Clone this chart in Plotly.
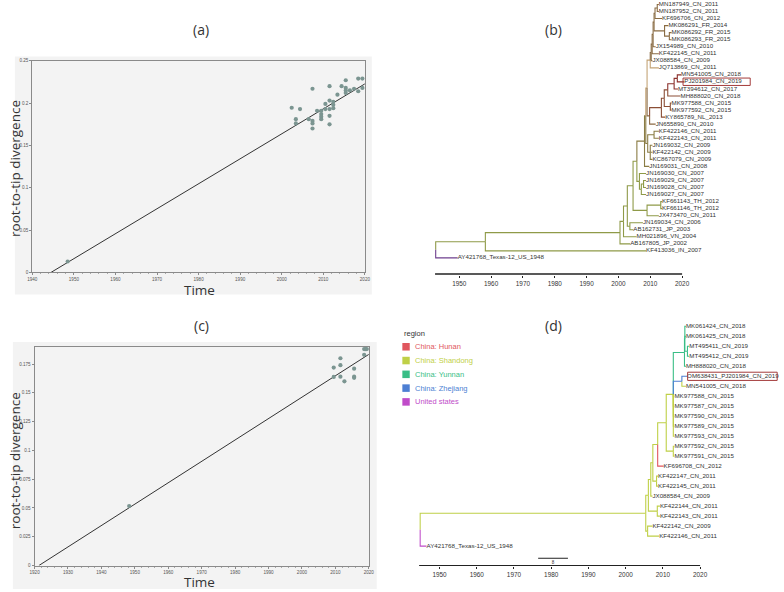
import plotly.graph_objects as go

W, H = 784, 592

# ---------------- (a) root-to-tip regression, full data set ----------------
A_YEARS = [1948.5, 2002.4, 2003.4, 2003.4, 2004.4, 2006.5, 2007.4, 2007.4, 2007.4, 2007.4,
           2008.5, 2009.5, 2009.5, 2009.5, 2009.5, 2010.5, 2010.5, 2011.5, 2011.5, 2011.5,
           2011.5, 2011.5, 2012.4, 2012.4, 2012.4, 2013.4, 2014.4, 2015.4, 2015.4, 2015.4,
           2015.4, 2016.4, 2017.4, 2018.4, 2018.4, 2019.4, 2019.4]
A_DIV = [0.0129, 0.1945, 0.181, 0.176, 0.193, 0.181, 0.217, 0.179, 0.176, 0.170,
         0.191, 0.191, 0.187, 0.184, 0.181, 0.199, 0.193, 0.220, 0.203, 0.193,
         0.185, 0.175, 0.2016, 0.198, 0.194, 0.210, 0.220, 0.227, 0.218, 0.215,
         0.212, 0.215, 0.217, 0.229, 0.214, 0.229, 0.218]
A_ROOT_DATE = 1944.5
A_RATE = 0.00295
A_XTICKS = [1940, 1950, 1960, 1970, 1980, 1990, 2000, 2010, 2020]
A_YTICKS = [0, 0.05, 0.1, 0.15, 0.2, 0.25]
A_YTICK_TEXT = ["0", "0.05", "0.1", "0.15", "0.2", "0.25"]

# ---------------- (c) root-to-tip regression, subset ----------------
C_YEARS = [1948.3, 2009.5, 2009.5, 2011.5, 2011.5, 2011.5, 2012.7, 2015.6, 2015.6, 2015.6,
           2018.6, 2018.6, 2019.0, 2019.4]
C_DIV = [0.0517, 0.1719, 0.1638, 0.180, 0.174, 0.164, 0.160, 0.171, 0.164, 0.163,
         0.183, 0.188, 0.188, 0.188]
C_ROOT_DATE = 1921.3
C_RATE = 0.001858
C_XTICKS = [1920, 1930, 1940, 1950, 1960, 1970, 1980, 1990, 2000, 2010, 2020]
C_YTICKS = [0, 0.025, 0.05, 0.075, 0.1, 0.125, 0.15, 0.175]
C_YTICK_TEXT = ["0", "0.025", "0.05", "0.075", "0.1", "0.125", "0.15", "0.175"]

# ---------------- (b) time tree, full data set ----------------
B_LEAVES = ["MN187949_CN_2011", "MN187952_CN_2011", "KF696706_CN_2012", "MK086291_FR_2014",
            "MK086292_FR_2015", "MK086293_FR_2015", "JX154989_CN_2010", "KF422145_CN_2011",
            "JX088584_CN_2009", "JQ713869_CN_2011", "MN541005_CN_2018", "PJ201984_CN_2019",
            "MT394612_CN_2017", "MH888020_CN_2018", "MK977588_CN_2015", "MK977592_CN_2015",
            "KY865789_NL_2013", "JN655890_CN_2010", "KF422146_CN_2011", "KF422143_CN_2011",
            "JN169032_CN_2009", "KF422142_CN_2009", "KC867079_CN_2009", "JN169031_CN_2008",
            "JN169030_CN_2007", "JN169029_CN_2007", "JN169028_CN_2007", "JN169027_CN_2007",
            "KF661143_TH_2012", "KF661146_TH_2012", "JX473470_CN_2011", "JN169034_CN_2006",
            "AB162731_JP_2003", "MH021896_VN_2004", "AB167805_JP_2002", "KF413036_IN_2007",
            "AY421768_Texas-12_US_1948"]
B_TIPS = [2012.7, 2012.7, 2013.7, 2015.7, 2016.7, 2016.7, 2011.7, 2012.7, 2010.7, 2012.7,
          2019.7, 2020.7, 2018.7, 2019.5, 2016.7, 2016.7, 2014.7, 2011.7, 2012.7, 2012.7,
          2010.7, 2010.7, 2010.7, 2009.7, 2008.7, 2008.7, 2008.7, 2008.7, 2013.7, 2013.7,
          2012.7, 2007.7, 2004.7, 2005.7, 2003.7, 2008.7, 1949.5]
B_NODE_IDS = ["R", "A", "B", "C", "D", "E", "E2", "G", "H", "F", "F2", "F3", "F4", "F1", "F1a",
              "M", "M1", "M2", "U", "U3", "U2", "U2a", "MKp", "U2b", "U2c", "U2d", "U1", "U1a",
              "U1b", "U1c", "U1d", "FR", "FR2", "U1e", "MNp"]
B_NODE_TIMES = [1942.6, 1958.2, 2000.5, 2001.6, 2002.8, 2003.6, 2004.6, 2009.0, 2013.3, 2005.8,
                2006.6, 2007.2, 2007.9, 2008.2, 2008.6, 2009.2, 2011.2, 2010.0, 2009.0, 2009.8,
                2013.5, 2014.4, 2016.3, 2015.5, 2017.5, 2018.5, 2010.0, 2010.3, 2010.6, 2010.9,
                2011.2, 2014.5, 2016.0, 2011.5, 2012.2]
B_NODE_CHILDREN = [
    ["A", "AY421768_Texas-12_US_1948"], ["B", "KF413036_IN_2007"], ["C", "AB167805_JP_2002"],
    ["D", "MH021896_VN_2004"], ["E2", "E"], ["JN169034_CN_2006", "AB162731_JP_2003"],
    ["F", "G"], ["H", "JX473470_CN_2011"], ["KF661143_TH_2012", "KF661146_TH_2012"],
    ["F1", "F2"], ["JN169030_CN_2007", "F3"], ["F4", "JN169027_CN_2007"],
    ["JN169029_CN_2007", "JN169028_CN_2007"], ["F1a", "JN169031_CN_2008"], ["U", "M"],
    ["M1", "M2"], ["KF422146_CN_2011", "KF422143_CN_2011"],
    ["JN169032_CN_2009", "KF422142_CN_2009", "KC867079_CN_2009"], ["U1", "U3"],
    ["U2", "JN655890_CN_2010"], ["U2a", "KY865789_NL_2013"], ["U2b", "MKp"],
    ["MK977588_CN_2015", "MK977592_CN_2015"], ["U2c", "MH888020_CN_2018"],
    ["U2d", "MT394612_CN_2017"], ["MN541005_CN_2018", "PJ201984_CN_2019"],
    ["U1a", "JQ713869_CN_2011"], ["U1b", "JX088584_CN_2009"], ["U1c", "KF422145_CN_2011"],
    ["U1d", "JX154989_CN_2010"], ["U1e", "FR"], ["MK086291_FR_2014", "FR2"],
    ["MK086292_FR_2015", "MK086293_FR_2015"], ["MNp", "KF696706_CN_2012"],
    ["MN187949_CN_2011", "MN187952_CN_2011"]]
B_CLADE_COLORS = {"A": "#8f9a48", "AY421768_Texas-12_US_1948": "#6e3f8e", "F1": "#8a7c44",
                  "U": "#c4a476", "U1a": "#8a6c44", "U3": "#8c6a44", "U2": "#8b4e36",
                  "U2c": "#8b2f2b"}
B_HIGHLIGHT = "PJ201984_CN_2019"
B_AXIS_TICKS = [1950, 1960, 1970, 1980, 1990, 2000, 2010, 2020]
B_AXIS_START = 1942.4

# ---------------- (d) time tree, subset ----------------
D_LEAVES = ["MK061424_CN_2018", "MK061425_CN_2018", "MT495411_CN_2019", "MT495412_CN_2019",
            "MH888020_CN_2018", "OM638431_PJ201984_CN_2019", "MN541005_CN_2018",
            "MK977588_CN_2015", "MK977587_CN_2015", "MK977590_CN_2015", "MK977589_CN_2015",
            "MK977593_CN_2015", "MK977592_CN_2015", "MK977591_CN_2015", "KF696708_CN_2012",
            "KF422147_CN_2011", "KF422145_CN_2011", "JX088584_CN_2009", "KF422144_CN_2011",
            "KF422143_CN_2011", "KF422142_CN_2009", "KF422146_CN_2011",
            "AY421768_Texas-12_US_1948"]
D_TIPS = [2016.2, 2016.2, 2017.1, 2017.1, 2016.2, 2016.5, 2016.2, 2013.1, 2013.1, 2013.1,
          2013.1, 2013.1, 2013.1, 2013.1, 2010.2, 2008.7, 2008.7, 2007.2, 2009.2, 2009.2,
          2007.2, 2009.0, 1946.5]
D_NODE_IDS = ["R", "N1", "N3", "N2", "N5", "N4", "N6", "N8", "N7", "N9", "N10", "N11",
              "G", "G3", "G2", "B"]
D_NODE_TIMES = [1944.8, 2005.4, 2005.9, 2006.1, 2008.5, 2006.75, 2007.3, 2008.3, 2008.6,
                2010.9, 2012.8, 2012.8, 2015.8, 2015.9, 2016.6, 2015.1]
D_NODE_CHILDREN = [
    ["N1", "AY421768_Texas-12_US_1948"], ["N2", "N3"], ["KF422142_CN_2009", "KF422146_CN_2011"],
    ["N4", "N5"], ["KF422144_CN_2011", "KF422143_CN_2011"], ["N6", "JX088584_CN_2009"],
    ["N7", "N8"], ["KF422147_CN_2011", "KF422145_CN_2011"], ["N9", "KF696708_CN_2012"],
    ["N10", "N11"],
    ["G", "B", "MK977588_CN_2015", "MK977587_CN_2015", "MK977590_CN_2015", "MK977589_CN_2015",
     "MK977593_CN_2015"],
    ["MK977592_CN_2015", "MK977591_CN_2015"], ["G3", "MH888020_CN_2018"],
    ["MK061424_CN_2018", "MK061425_CN_2018", "G2"], ["MT495411_CN_2019", "MT495412_CN_2019"],
    ["OM638431_PJ201984_CN_2019", "MN541005_CN_2018"]]
REGIONS = ["China: Hunan", "China: Shandong", "China: Yunnan", "China: Zhejiang", "United states"]
REGION_COLORS = ["#e0565e", "#bfd047", "#39be86", "#4d7fd3", "#c04cc9"]
D_CLADE_REGION = {"N1": "China: Shandong", "AY421768_Texas-12_US_1948": "United states",
                  "G": "China: Yunnan", "B": "China: Zhejiang", "MN541005_CN_2018": "China: Shandong",
                  "KF696708_CN_2012": "China: Hunan"}
D_HIGHLIGHT = "OM638431_PJ201984_CN_2019"
D_AXIS_TICKS = [1950, 1960, 1970, 1980, 1990, 2000, 2010, 2020]
D_AXIS_START = 1944.5
D_SCALE_START = 1976.5
D_SCALE_LEN = 8

LABEL_FONT = "Liberation Sans, Arial, sans-serif"
TITLE_FONT = "Open Sans, Noto Sans, sans-serif"


def xdom(p0, p1):
    return [p0 / W, p1 / W]


def ydom(top, bottom):
    return [1 - bottom / H, 1 - top / H]


def tree_traces(leaves, tips, node_ids, node_times, node_children, clade_colors, xa, ya, lw):
    t = dict(zip(leaves, tips))
    t.update(dict(zip(node_ids, node_times)))
    ch = dict(zip(node_ids, node_children))
    y = {n: i for i, n in enumerate(leaves)}

    def gety(n):
        if n not in y:
            ys = [gety(c) for c in ch[n]]
            y[n] = (min(ys) + max(ys)) / 2
        return y[n]

    root = node_ids[0]
    gety(root)
    segs = {}

    def walk(n, col):
        for c in ch.get(n, []):
            cc = clade_colors.get(c, col)
            xs, ys = segs.setdefault(cc, ([], []))
            xs += [t[n], t[n], t[c], None]
            ys += [y[n], y[c], y[c], None]
            walk(c, cc)

    walk(root, "#888888")
    traces = []
    for col, (xs, ys) in segs.items():
        traces.append(go.Scatter(x=xs, y=ys, mode="lines", line=dict(color=col, width=lw),
                                 xaxis=xa, yaxis=ya, hoverinfo="skip", showlegend=False))
    return traces, y, t


def paper_text(txt, xp, yp, font, angle=0, xanchor="center"):
    fig.add_annotation(x=xp / W, y=1 - yp / H, xref="paper", yref="paper", text=txt,
                       showarrow=False, xanchor=xanchor, yanchor="middle", textangle=angle,
                       font=font)


fig = go.Figure()

# ---- panels (a) and (c): grey panel backgrounds ----
for (x0, y0, x1, y1) in [(10, 55, 372, 295), (8, 343, 377, 592)]:
    fig.add_shape(type="rect", xref="paper", yref="paper", x0=x0 / W, x1=x1 / W,
                  y0=1 - y1 / H, y1=1 - y0 / H, fillcolor="#f3f3f3", line=dict(width=0),
                  layer="below")

for xs, ys, root, rate, xa, ya in [(A_YEARS, A_DIV, A_ROOT_DATE, A_RATE, "x", "y"),
                                   (C_YEARS, C_DIV, C_ROOT_DATE, C_RATE, "x3", "y3")]:
    fig.add_trace(go.Scatter(x=[root, 2020], y=[0, rate * (2020 - root)], mode="lines",
                             line=dict(color="#333333", width=1), xaxis=xa, yaxis=ya,
                             showlegend=False, hoverinfo="skip"))
    fig.add_trace(go.Scatter(x=xs, y=ys, mode="markers",
                             marker=dict(color="#7b9591", size=4.2, line=dict(width=0)),
                             xaxis=xa, yaxis=ya, showlegend=False, cliponaxis=False))

# ---- panel (b) ----
b_traces, b_y, b_t = tree_traces(B_LEAVES, B_TIPS, B_NODE_IDS, B_NODE_TIMES, B_NODE_CHILDREN,
                                 B_CLADE_COLORS, "x2", "y2", 1.1)
for tr in b_traces:
    fig.add_trace(tr)
fig.add_trace(go.Scatter(x=B_TIPS, y=list(range(len(B_LEAVES))), mode="text", text=B_LEAVES,
                         textposition="middle right",
                         textfont=dict(family=LABEL_FONT, size=6.2, color="#333333"),
                         xaxis="x2", yaxis="y2", showlegend=False, cliponaxis=False,
                         hoverinfo="skip"))
B_AXIS_Y = (274.3 - 2.5) / 7.1
fig.add_trace(go.Scatter(x=[B_AXIS_START, B_AXIS_TICKS[-1]], y=[B_AXIS_Y, B_AXIS_Y], mode="lines",
                         line=dict(color="#222222", width=1.3), xaxis="x2", yaxis="y2",
                         showlegend=False, hoverinfo="skip"))
bi = B_LEAVES.index(B_HIGHLIGHT)
fig.add_shape(type="rect", xref="x2", yref="y2", x0=b_t[B_HIGHLIGHT] - 0.4,
              x1=b_t[B_HIGHLIGHT] + 20.7, y0=bi - 0.55, y1=bi + 0.5,
              line=dict(color="#a33a3a", width=1))

# ---- panel (d) ----
d_colors = {k: REGION_COLORS[REGIONS.index(v)] for k, v in D_CLADE_REGION.items()}
d_traces, d_y, d_t = tree_traces(D_LEAVES, D_TIPS, D_NODE_IDS, D_NODE_TIMES, D_NODE_CHILDREN,
                                 d_colors, "x4", "y4", 1.1)
for tr in d_traces:
    fig.add_trace(tr)
fig.add_trace(go.Scatter(x=D_TIPS, y=list(range(len(D_LEAVES))), mode="text", text=D_LEAVES,
                         textposition="middle right",
                         textfont=dict(family=LABEL_FONT, size=6.2, color="#333333"),
                         xaxis="x4", yaxis="y4", showlegend=False, cliponaxis=False,
                         hoverinfo="skip"))
D_AXIS_Y = (568.3 - 327) / 10.08
fig.add_trace(go.Scatter(x=[D_AXIS_START, D_AXIS_TICKS[-1]], y=[D_AXIS_Y, D_AXIS_Y], mode="lines",
                         line=dict(color="#222222", width=1), xaxis="x4", yaxis="y4",
                         showlegend=False, hoverinfo="skip"))
SB_Y = (561 - 327) / 10.08
fig.add_trace(go.Scatter(x=[D_SCALE_START, D_SCALE_START + D_SCALE_LEN], y=[SB_Y, SB_Y],
                         mode="lines", line=dict(color="#222222", width=1), xaxis="x4",
                         yaxis="y4", showlegend=False, hoverinfo="skip"))
fig.add_trace(go.Scatter(x=[D_SCALE_START + D_SCALE_LEN / 2], y=[SB_Y + 0.42], mode="text",
                         text=[str(D_SCALE_LEN)], textfont=dict(family=LABEL_FONT, size=4.5,
                                                                 color="#333333"),
                         xaxis="x4", yaxis="y4", showlegend=False, hoverinfo="skip"))
di = D_LEAVES.index(D_HIGHLIGHT)
fig.add_shape(type="rect", xref="x4", yref="y4", x0=d_t[D_HIGHLIGHT] + 0.15, x1=2040.7,
              y0=di - 0.4, y1=di + 0.42, line=dict(color="#a33a3a", width=1))

# ---- legend of (d) ----
paper_text("region", 403, 334, dict(family=LABEL_FONT, size=7.5, color="#333333"),
           xanchor="left")
for k, (reg, col) in enumerate(zip(REGIONS, REGION_COLORS)):
    yc = 347.7 + 13.9 * k
    fig.add_shape(type="rect", xref="paper", yref="paper", x0=403 / W, x1=410.5 / W,
                  y0=1 - (yc + 3.8) / H, y1=1 - (yc - 3.8) / H, fillcolor=col, line=dict(width=0))
    paper_text(reg, 414, yc, dict(family=LABEL_FONT, size=7.5, color=col), xanchor="left")

# ---- panel titles and axis titles ----
for txt, xp, yp in [("(a)", 199, 28), ("(b)", 556, 28), ("(c)", 199, 326), ("(d)", 556, 326)]:
    paper_text(txt, xp, yp, dict(family=TITLE_FONT, size=14, color="#333333"))
for yp in [290.5, 585]:
    paper_text("Time", 197, yp, dict(family=TITLE_FONT, size=13.5, color="#333333"))
for yp in [168, 462.7]:
    paper_text("root-to-tip divergence", 9.5, yp,
               dict(family=TITLE_FONT, size=13.5, color="#333333"), angle=-90)

small = dict(family=LABEL_FONT, size=4.6, color="#555555")
frame = dict(showline=True, mirror=True, linecolor="#8a8a8a", linewidth=1, showgrid=False,
             zeroline=False, ticks="outside", ticklen=2, tickcolor="#8a8a8a", tickfont=small)
tree_x = dict(showline=False, showgrid=False, zeroline=False, ticks="outside", ticklen=2,
              tickcolor="#222222", tickfont=dict(family=LABEL_FONT, size=6.4, color="#333333"))
hidden = dict(visible=False, showgrid=False, zeroline=False)

B_YTOP = (0 - 2.5) / 7.1
B_YBOT = (275.5 - 2.5) / 7.1
D_YTOP = (296 - 327) / 10.08
D_YBOT = (569 - 327) / 10.08

fig.update_layout(
    width=W, height=H, margin=dict(l=0, r=0, t=0, b=0), paper_bgcolor="white",
    plot_bgcolor="white", showlegend=False,
    xaxis=dict(domain=xdom(27.7, 365), range=[1940, 2020], anchor="y", tickvals=A_XTICKS,
               minor=dict(dtick=2, ticklen=1, tickcolor="#aaaaaa", ticks="outside"), **frame),
    yaxis=dict(domain=ydom(59.3, 272.7), range=[0, 0.25], anchor="x", tickvals=A_YTICKS,
               ticktext=A_YTICK_TEXT, **frame),
    xaxis2=dict(domain=xdom(420, 784), range=[1937.39, 2050.13], anchor="y2",
                tickvals=B_AXIS_TICKS, **tree_x),
    yaxis2=dict(domain=ydom(0, 275.5), range=[B_YBOT, B_YTOP], anchor="x2", **hidden),
    xaxis3=dict(domain=xdom(30, 369), range=[1920, 2020], anchor="y3", tickvals=C_XTICKS,
                minor=dict(dtick=2, ticklen=1, tickcolor="#aaaaaa", ticks="outside"), **frame),
    yaxis3=dict(domain=ydom(347.7, 568.3), range=[0, 0.19], anchor="x3", tickvals=C_YTICKS,
                ticktext=C_YTICK_TEXT, **frame),
    xaxis4=dict(domain=xdom(420, 784), range=[1944.52, 2040.92], anchor="y4",
                tickvals=D_AXIS_TICKS, **tree_x),
    yaxis4=dict(domain=ydom(296, 569), range=[D_YBOT, D_YTOP], anchor="x4", **hidden),
)

fig.write_html("out.html", config={"displayModeBar": False},
               post_script="document.body.style.margin='0px';document.body.style.overflow='hidden';")
